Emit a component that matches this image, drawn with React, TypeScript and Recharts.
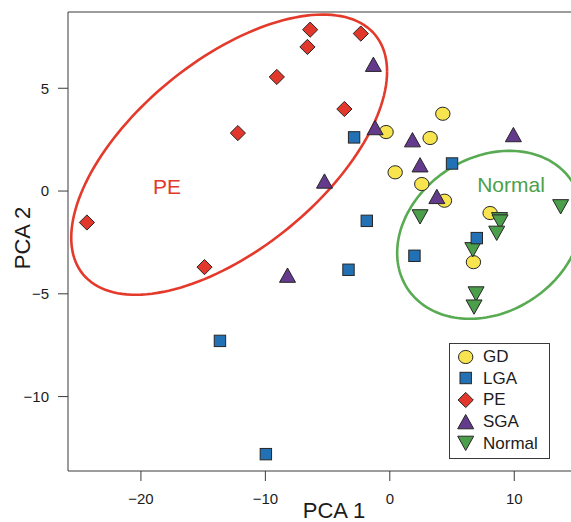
import React from "react";
import {
  ScatterChart, Scatter, XAxis, YAxis, ReferenceLine, ReferenceDot, Legend,
} from "recharts";

const FONT = '"Liberation Sans", Arial, Helvetica, sans-serif';
const INK = "#1c1c1c";
const AXIS = "#3a3a3a";
const EDGE = "#262626";
const YELLOW = "#f7e44f";
const BLUE = "#2271b5";
const RED = "#e2382c";
const PURPLE = "#643a8c";
const GREEN = "#4c9f4a";
const RING_RED = "#e33a2c";
const RING_GREEN = "#58ab52";

const X_TICKS = [-20, -10, 0, 10];
const Y_TICKS = [-10, -5, 0, 5];
const X_DOMAIN: [number, number] = [-25.86, 14.56];
const Y_DOMAIN: [number, number] = [-13.62, 8.71];

const GD = [
  { x: -0.3, y: 2.87 }, { x: 4.26, y: 3.76 }, { x: 3.24, y: 2.58 }, { x: 0.43, y: 0.91 },
  { x: 2.57, y: 0.34 }, { x: 4.39, y: -0.47 }, { x: 8.06, y: -1.07 }, { x: 6.72, y: -3.46 },
];
const LGA = [
  { x: -2.87, y: 2.61 }, { x: 5.0, y: 1.34 }, { x: -1.85, y: -1.45 }, { x: 1.98, y: -3.15 },
  { x: 6.99, y: -2.29 }, { x: -3.32, y: -3.83 }, { x: -13.65, y: -7.29 }, { x: -9.96, y: -12.8 },
];
const PE = [
  { x: -6.4, y: 7.85 }, { x: -2.33, y: 7.66 }, { x: -6.62, y: 7.01 }, { x: -9.08, y: 5.55 },
  { x: -3.65, y: 3.99 }, { x: -12.21, y: 2.82 }, { x: -24.34, y: -1.53 }, { x: -14.89, y: -3.7 },
];
const SGA = [
  { x: -1.32, y: 6.15 }, { x: -1.18, y: 3.07 }, { x: -5.25, y: 0.47 }, { x: -8.22, y: -4.11 },
  { x: 1.82, y: 2.48 }, { x: 2.43, y: 1.26 }, { x: 3.78, y: -0.28 }, { x: 9.93, y: 2.73 },
];
const NORMAL = [
  { x: 2.43, y: -1.24 }, { x: 13.73, y: -0.75 }, { x: 8.82, y: -1.38 }, { x: 8.86, y: -1.49 },
  { x: 8.59, y: -2.04 }, { x: 6.67, y: -2.84 }, { x: 6.93, y: -4.99 }, { x: 6.77, y: -5.63 },
];

// group ellipses: centre + two conjugate semi-diameters, in data units
const PE_RING = { cx: -12.91, cy: 1.77, ux: 12.69, uy: 4.04, vx: 0, vy: 5.49 };
const NORMAL_RING = { cx: 8.02, cy: -2.13, ux: -7.43, uy: -0.88, vx: 0, vy: 3.99 };

type Ring = typeof PE_RING;
const ringOutline = (r: Ring, n = 160) =>
  Array.from({ length: n + 1 }, (_, i) => {
    const t = (2 * Math.PI * i) / n;
    return {
      x: r.cx + Math.cos(t) * r.ux + Math.sin(t) * r.vx,
      y: r.cy + Math.cos(t) * r.uy + Math.sin(t) * r.vy,
    };
  });

type P = { cx?: number; cy?: number };

const circleMark = ({ cx = 0, cy = 0 }: P) => (
  <ellipse cx={cx} cy={cy} rx={7.2} ry={6.6} fill={YELLOW} stroke={EDGE} strokeWidth={1} />
);
const squareMark = ({ cx = 0, cy = 0 }: P) => (
  <rect x={cx - 5.7} y={cy - 5.7} width={11.4} height={11.4} fill={BLUE} stroke={EDGE} strokeWidth={1} />
);
const diamondMark = ({ cx = 0, cy = 0 }: P) => (
  <polygon
    points={`${cx},${cy - 7.6} ${cx + 7.6},${cy} ${cx},${cy + 7.6} ${cx - 7.6},${cy}`}
    fill={RED} stroke={EDGE} strokeWidth={1}
  />
);
const upMark = ({ cx = 0, cy = 0 }: P) => (
  <polygon
    points={`${cx},${cy - 7.5} ${cx + 8},${cy + 6.8} ${cx - 8},${cy + 6.8}`}
    fill={PURPLE} stroke={EDGE} strokeWidth={1}
  />
);
const downMark = ({ cx = 0, cy = 0 }: P) => (
  <polygon
    points={`${cx - 8},${cy - 6.8} ${cx + 8},${cy - 6.8} ${cx},${cy + 7.5}`}
    fill={GREEN} stroke={EDGE} strokeWidth={1}
  />
);

const GROUPS = [
  { name: "GD", mark: circleMark },
  { name: "LGA", mark: squareMark },
  { name: "PE", mark: diamondMark },
  { name: "SGA", mark: upMark },
  { name: "Normal", mark: downMark },
];

const fmt = (v: number) => (v < 0 ? `\u2212${Math.abs(v)}` : String(v));

const LegendBox = () => (
  <div
    style={{
      width: 101, height: 116, boxSizing: "border-box", border: `1px solid ${AXIS}`,
      background: "#fff", paddingTop: 2,
    }}
  >
    {GROUPS.map(({ name, mark }) => (
      <div key={name} style={{ display: "flex", alignItems: "center", height: 21.6 }}>
        <svg width={33} height={20} style={{ display: "block" }}>
          {mark({ cx: 15.7, cy: 10 })}
        </svg>
        <span style={{ fontSize: 17, color: INK, fontFamily: FONT, lineHeight: "17px" }}>{name}</span>
      </div>
    ))}
  </div>
);

const none = () => <g />;

export default function App() {
  return (
    <div style={{ position: "absolute", left: 0, top: 0 }}>
      <ScatterChart width={571} height={522} margin={{ top: 12, right: 0, bottom: 0, left: 0 }}>
        <XAxis
          type="number"
          dataKey="x"
          domain={X_DOMAIN}
          allowDataOverflow
          ticks={X_TICKS}
          interval={0}
          tickFormatter={fmt}
          height={51}
          tickSize={10}
          tickMargin={12}
          axisLine={{ stroke: AXIS }}
          tickLine={{ stroke: AXIS }}
          tick={{ fontSize: 15, fill: INK, fontFamily: FONT }}
          label={{
            content: () => (
              <text x={334} y={518} textAnchor="middle" fontSize={22} fill={INK} fontFamily={FONT}>
                PCA 1
              </text>
            ),
          }}
        />
        <YAxis
          type="number"
          dataKey="y"
          domain={Y_DOMAIN}
          allowDataOverflow
          ticks={Y_TICKS}
          interval={0}
          tickFormatter={fmt}
          width={68}
          tickSize={10}
          tickMargin={9}
          axisLine={{ stroke: AXIS }}
          tickLine={{ stroke: AXIS }}
          tick={{ fontSize: 15, fill: INK, fontFamily: FONT }}
          label={{
            content: () => (
              <text
                x={30} y={238} textAnchor="middle" fontSize={22} fill={INK} fontFamily={FONT}
                transform="rotate(-90 30 238)"
              >
                PCA 2
              </text>
            ),
          }}
        />
        <ReferenceLine y={Y_DOMAIN[1]} stroke={AXIS} />

        <Scatter
          data={ringOutline(PE_RING)} line={{ stroke: RING_RED, strokeWidth: 2.6 }} lineType="joint"
          shape={none} legendType="none" isAnimationActive={false}
        />
        <Scatter
          data={ringOutline(NORMAL_RING)} line={{ stroke: RING_GREEN, strokeWidth: 2.6 }} lineType="joint"
          shape={none} legendType="none" isAnimationActive={false}
        />

        <Scatter name="GD" data={GD} shape={circleMark} isAnimationActive={false} />
        <Scatter name="Normal" data={NORMAL} shape={downMark} isAnimationActive={false} />
        <Scatter name="LGA" data={LGA} shape={squareMark} isAnimationActive={false} />
        <Scatter name="PE" data={PE} shape={diamondMark} isAnimationActive={false} />
        <Scatter name="SGA" data={SGA} shape={upMark} isAnimationActive={false} />

        <ReferenceDot
          x={-17.91} y={0.22} r={1} fill="none" stroke="none"
          label={{ value: "PE", position: "center", fill: RED, fontSize: 21, fontFamily: FONT }}
        />
        <ReferenceDot
          x={9.74} y={0.31} r={1} fill="none" stroke="none"
          label={{ value: "Normal", position: "center", fill: GREEN, fontSize: 21, fontFamily: FONT }}
        />

        <Legend
          layout="vertical"
          align="center"
          verticalAlign="middle"
          content={LegendBox}
          wrapperStyle={{ left: 449, top: 343, width: 101, height: 116 }}
        />
      </ScatterChart>
    </div>
  );
}
